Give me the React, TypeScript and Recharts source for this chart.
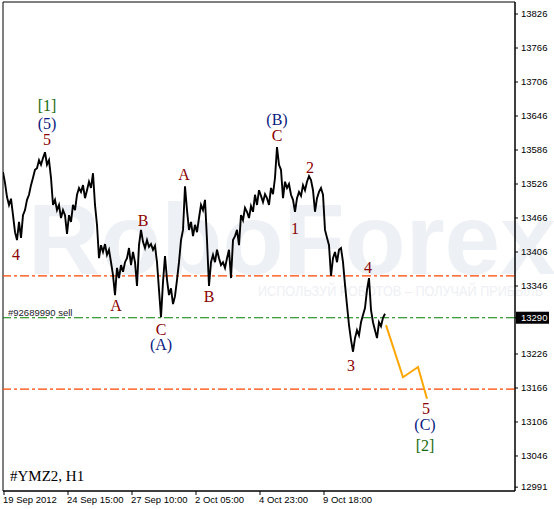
import React from 'react';
import { ComposedChart, Line, XAxis, YAxis, ReferenceLine, ReferenceArea, Scatter } from 'recharts';

// hourly closes of #YMZ2, sampled every 2 bars (bar 0 = 19 Sep 2012)
const closePrices: number[] = [
  13547, 13528, 13503, 13489, 13500, 13471, 13441, 13427, 13459, 13431,
  13471, 13480, 13498, 13507, 13524, 13537, 13551, 13554, 13568, 13560,
  13572, 13582, 13560, 13568, 13537, 13489, 13498, 13480, 13489, 13466,
  13480, 13471, 13438, 13471, 13459, 13489, 13480, 13507, 13519, 13512,
  13524, 13501, 13515, 13530, 13519, 13545, 13489, 13454, 13395, 13418,
  13406, 13420, 13401, 13410, 13388, 13365, 13330, 13378, 13360, 13383,
  13371, 13388, 13395, 13413, 13383, 13406, 13388, 13346, 13418, 13445,
  13424, 13413, 13427, 13415, 13420, 13410, 13417, 13388, 13339, 13291,
  13353, 13399, 13357, 13330, 13342, 13314, 13328, 13357, 13388, 13427,
  13445, 13522, 13480, 13445, 13459, 13434, 13454, 13441, 13466, 13489,
  13480, 13498, 13427, 13346, 13388, 13401, 13388, 13410, 13395, 13383,
  13388, 13378, 13395, 13410, 13360, 13427, 13434, 13445, 13418, 13471,
  13462, 13484, 13477, 13466, 13487, 13477, 13507, 13489, 13515, 13505,
  13494, 13508, 13501, 13489, 13519, 13508, 13537, 13591, 13560, 13551,
  13501, 13530, 13519, 13526, 13507, 13498, 13477, 13501, 13512, 13505,
  13524, 13515, 13530, 13540, 13533, 13515, 13477, 13501, 13512, 13519,
  13507, 13445, 13431, 13418, 13364, 13395, 13406, 13388, 13410, 13413,
  13388, 13348, 13312, 13277, 13251, 13230, 13254, 13268, 13259, 13282,
  13295, 13307, 13339, 13360, 13304, 13282, 13268, 13254, 13282, 13275,
  13290, 13297,
];
const priceData = closePrices.map((price, k) => ({ bar: k * 2, price }));

// projected wave path
const forecastBars = [383, 400, 415, 424];
const forecastPrices = [13277, 13185, 13203, 13147];
const forecastData = forecastBars.map((bar, k) => ({ bar, price: forecastPrices[k] }));

// horizontal levels
const upperLevel = 13364;
const orderLevel = 13290;
const targetLevel = 13164;

// wave labels
const waveTexts = ['[1]', '(5)', '5', '4', 'A', 'B', 'C', '(A)', 'A', 'B', '(B)', 'C', '2', '1', '4', '3', '5', '(C)', '[2]'];
const waveBars = [44, 44, 44, 13, 113, 140, 158, 158, 181, 206, 274, 274, 307, 292, 365, 348, 423, 422, 422];
const wavePrices = [13665, 13632, 13605, 13401, 13311, 13462, 13270, 13242, 13542, 13327, 13639, 13612, 13556, 13448, 13378, 13205, 13129, 13101, 13065];
const waveColors = ['#1a6b10', '#0a1a80', '#8b0000', '#8b0000', '#8b0000', '#8b0000', '#8b0000', '#0a1a80', '#8b0000', '#8b0000', '#0a1a80', '#8b0000', '#8b0000', '#8b0000', '#8b0000', '#8b0000', '#8b0000', '#0a1a80', '#1a6b10'];
const waveData = waveTexts.map((text, k) => ({ bar: waveBars[k], price: wavePrices[k], text, color: waveColors[k] }));

// axes
const xTickBars = [1, 65, 129, 193, 257, 321];
const xTickLabels = ['19 Sep 2012', '24 Sep 15:00', '27 Sep 10:00', '2 Oct 05:00', '4 Oct 23:00', '9 Oct 18:00'];
const yTicks = [13826, 13766, 13706, 13646, 13586, 13526, 13466, 13406, 13346, 13290, 13226, 13166, 13106, 13046, 12991];
const yMin = 12984.2;
const yMax = 13847.2;

const tickFont = '"Liberation Sans", Arial, sans-serif';
const serif = '"Liberation Serif", "Times New Roman", serif';

const XTick = (props: any) => {
  const { x, y, payload } = props;
  const idx = xTickBars.indexOf(payload.value);
  return (
    <text x={x - 1} y={y - 1} dy="0.71em" textAnchor="start" fontSize={9.5} fontFamily={tickFont} fill="#000">
      {idx >= 0 ? xTickLabels[idx] : ''}
    </text>
  );
};

const YTick = (props: any) => {
  const { x, y, payload } = props;
  if (payload.value === orderLevel) {
    return (
      <g>
        <rect x={x - 4} y={y - 6} width={33} height={12} fill="#000" />
        <text x={x + 1} y={y} dy="0.35em" fontSize={9.5} fontFamily={tickFont} fill="#fff">{payload.value}</text>
      </g>
    );
  }
  return (
    <text x={x + 1} y={y} dy="0.35em" fontSize={9.5} fontFamily={tickFont} fill="#000">{payload.value}</text>
  );
};

const WaveLabel = (p: any) => (
  <text x={p.cx} y={p.cy} textAnchor="middle" dominantBaseline="central" fontSize={16} fontFamily={serif} fill={p.payload.color}>
    {p.payload.text}
  </text>
);

export default function App() {
  return (
    <div style={{ position: 'absolute', left: 0, top: 0, width: 554, height: 509, background: '#fff' }}>
      <svg width={554} height={509} style={{ position: 'absolute', left: 0, top: 0 }}>
        <text x={28} y={274} fontSize={100} fontWeight="bold" fontFamily={tickFont} fill="#edf0f4">RoboForex</text>
        <text x={258} y={296} fontSize={14} fontFamily={tickFont} fill="#eef0f4" textLength={285} lengthAdjust="spacingAndGlyphs">ИСПОЛЬЗУЙ РОБОТОВ – ПОЛУЧАЙ ПРИБЫЛЬ</text>
      </svg>
      <div style={{ position: 'absolute', left: 0, top: 0 }}>
        <ComposedChart width={554} height={509} margin={{ top: 2, right: 0, bottom: 0, left: 3 }}>
          <XAxis
            type="number"
            dataKey="bar"
            domain={[0, 512]}
            ticks={xTickBars}
            tick={<XTick />}
            tickSize={4}
            height={18}
            stroke="#000"
            interval={0}
            allowDataOverflow
          />
          <YAxis
            type="number"
            dataKey="price"
            orientation="right"
            domain={[yMin, yMax]}
            ticks={yTicks}
            tick={<YTick />}
            tickSize={3}
            width={39}
            stroke="#000"
            interval={0}
            allowDataOverflow
          />
          <ReferenceArea x1={0} x2={512} y1={yMin} y2={yMax} fill="none" stroke="#000" strokeWidth={1} ifOverflow="visible" />
          <ReferenceLine y={upperLevel} stroke="#ff4500" strokeWidth={1.2} strokeDasharray="9 3 3 3" />
          <ReferenceLine y={orderLevel} stroke="#008000" strokeWidth={1.2} strokeDasharray="9 3 3 3" />
          <ReferenceLine y={targetLevel} stroke="#ff4500" strokeWidth={1.2} strokeDasharray="9 3 3 3" />
          <Line data={priceData} dataKey="price" stroke="#000" strokeWidth={1.9} dot={false} isAnimationActive={false} type="linear" />
          <Line data={forecastData} dataKey="price" stroke="#ffa500" strokeWidth={2} dot={false} isAnimationActive={false} type="linear" />
          <Scatter data={waveData} dataKey="price" shape={<WaveLabel />} isAnimationActive={false} />
        </ComposedChart>
      </div>
      <svg width={554} height={509} style={{ position: 'absolute', left: 0, top: 0, pointerEvents: 'none' }}>
        <text x={8} y={316} fontSize={9.5} fontFamily={tickFont} fill="#1a1a2a">#92689990 sell</text>
        <text x={10} y={481} fontSize={15} fontFamily={serif} fill="#000">#YMZ2, H1</text>
      </svg>
    </div>
  );
}
